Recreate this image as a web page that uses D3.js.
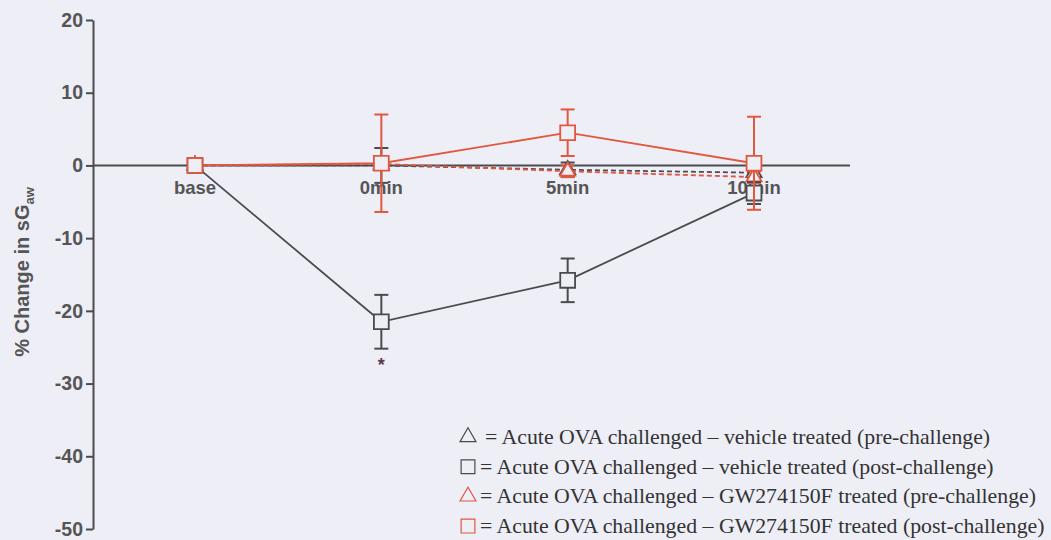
<!DOCTYPE html>
<html>
<head>
<meta charset="utf-8">
<script src="https://cdn.jsdelivr.net/npm/d3@7"></script>
<style>
  body { margin: 0; background: #eeeef7; }
  svg { display: block; }
</style>
</head>
<body>
<div id="chart"></div>
<script>
// categories / values
const categories = ["base", "0min", "5min", "10min"];
const yTicks = [20, 10, 0, -10, -20, -30, -40, -50];

const vehPre = [0, 0, -0.6, -1.0];
const vehPreErr = [0, 2.4, 1.0, 0.8];
const vehPost = [0, -21.5, -15.8, -3.8];
const vehPostErr = [0, 3.7, 3.0, 1.5];
const gwPre = [0, 0.2, -0.8, -1.6];
const gwPreErr = [0, 0.5, 0.8, 0.8];
const gwPost = [0, 0.3, 4.5, 0.3];
const gwPostErr = [0, 6.7, 3.2, 6.4];

const legendLabels = [
  "= Acute OVA challenged \u2013 vehicle treated (pre-challenge)",
  "= Acute OVA challenged \u2013 vehicle treated (post-challenge)",
  "= Acute OVA challenged \u2013 GW274150F treated (pre-challenge)",
  "= Acute OVA challenged \u2013 GW274150F treated (post-challenge)"
];

const width = 1051, height = 540;
const dark = "#4a4a4f", red = "#e0583f", bg = "#eeeef7";
const sans = "'Liberation Sans', Arial, sans-serif";

const svg = d3.select("#chart").append("svg")
  .attr("width", width).attr("height", height)
  .style("background", bg);

const x = d3.scalePoint().domain(categories).range([195, 754]);
const y = d3.scaleLinear().domain([-50, 20]).range([529, 20]);

// y axis
const yAxis = svg.append("g")
  .attr("transform", "translate(93,0)")
  .call(d3.axisLeft(y).tickValues(yTicks).tickFormat(d => String(d))
    .tickSize(7).tickSizeOuter(0).tickPadding(3));
yAxis.select(".domain").attr("stroke", dark).attr("stroke-width", 2);
yAxis.selectAll(".tick line").attr("stroke", dark).attr("stroke-width", 2);
yAxis.selectAll(".tick text")
  .attr("fill", "#555")
  .style("font", `bold 19.5px ${sans}`);

// zero line
svg.append("line")
  .attr("x1", 93).attr("x2", 850)
  .attr("y1", y(0)).attr("y2", y(0))
  .attr("stroke", dark).attr("stroke-width", 2);

// y axis title
svg.append("text")
  .attr("transform", `translate(29,272) rotate(-90)`)
  .attr("text-anchor", "middle")
  .attr("fill", "#555")
  .style("font", `bold 20px ${sans}`)
  .text("% Change in sG")
  .append("tspan")
  .attr("dy", 5)
  .style("font-size", "13px")
  .text("aw");

// x labels
svg.append("g").selectAll("text")
  .data(categories)
  .join("text")
  .attr("x", d => x(d))
  .attr("y", y(0) + 29)
  .attr("text-anchor", "middle")
  .attr("fill", "#555")
  .style("font", `bold 18.5px ${sans}`)
  .text(d => d);

const series = [
  { vals: vehPre, err: vehPreErr, color: dark, shape: "tri", dash: "5,3" },
  { vals: gwPre, err: gwPreErr, color: red, shape: "tri", dash: "5,3" },
  { vals: vehPost, err: vehPostErr, color: dark, shape: "sq", dash: null },
  { vals: gwPost, err: gwPostErr, color: red, shape: "sq", dash: null }
];

const line = d3.line().x((d, i) => x(categories[i])).y(d => y(d));

series.forEach(s => {
  const g = svg.append("g");
  g.append("path")
    .attr("d", line(s.vals))
    .attr("fill", "none")
    .attr("stroke", s.color)
    .attr("stroke-width", 1.8)
    .attr("stroke-dasharray", s.dash);

  // error bars
  const eb = g.selectAll(".eb")
    .data(s.vals.map((v, i) => ({ v, e: s.err[i], c: categories[i] })).filter(d => d.e > 0))
    .join("g");
  eb.append("line")
    .attr("x1", d => x(d.c)).attr("x2", d => x(d.c))
    .attr("y1", d => y(d.v + d.e)).attr("y2", d => y(d.v - d.e))
    .attr("stroke", s.color).attr("stroke-width", 2);
  [1, -1].forEach(sign => {
    eb.append("line")
      .attr("x1", d => x(d.c) - 7).attr("x2", d => x(d.c) + 7)
      .attr("y1", d => y(d.v + sign * d.e)).attr("y2", d => y(d.v + sign * d.e))
      .attr("stroke", s.color).attr("stroke-width", 2);
  });

  // markers
  const sym = s.shape === "sq" ? d3.symbolSquare : d3.symbolTriangle;
  g.selectAll(".m")
    .data(s.vals)
    .join("path")
    .attr("transform", (d, i) => `translate(${x(categories[i])},${y(d)})`)
    .attr("d", d3.symbol().type(sym).size(s.shape === "sq" ? 220 : 100))
    .attr("fill", bg)
    .attr("stroke", s.color)
    .attr("stroke-width", 1.8);
});

// significance star
svg.append("text")
  .attr("x", x("0min"))
  .attr("y", y(vehPost[1] - vehPostErr[1]) + 22)
  .attr("text-anchor", "middle")
  .attr("fill", "#5a3a4a")
  .style("font", `bold 18px ${sans}`)
  .text("*");

// legend
const legendShapes = ["tri", "sq", "tri", "sq"];
const legendColors = [dark, dark, red, red];
const legend = svg.append("g");
legendLabels.forEach((t, i) => {
  const ly = 444 + i * 29.7;
  const sym = legendShapes[i] === "sq" ? d3.symbolSquare : d3.symbolTriangle;
  legend.append("path")
    .attr("transform", `translate(468,${ly - 7})`)
    .attr("d", d3.symbol().type(sym).size(legendShapes[i] === "sq" ? 190 : 110))
    .attr("fill", "none")
    .attr("stroke", legendColors[i])
    .attr("stroke-width", 1.2);
  legend.append("text")
    .attr("x", i === 0 ? 485 : 480)
    .attr("y", ly)
    .attr("fill", "#333")
    .style("font", `21.8px 'Liberation Serif', 'Times New Roman', serif`)
    .text(t);
});
</script>
</body>
</html>
